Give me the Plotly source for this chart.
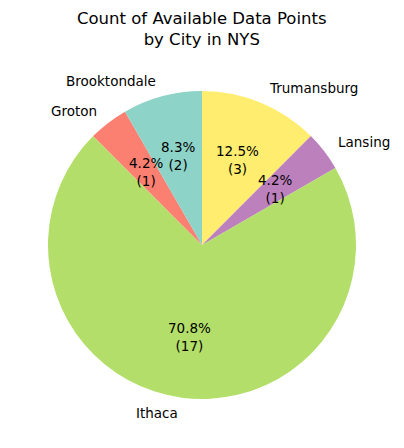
import math
import plotly.graph_objects as go

# Data (listed clockwise from 12 o'clock, as the reference shows them)
cities = ["Trumansburg", "Lansing", "Ithaca", "Groton", "Brooktondale"]
counts = [3, 1, 17, 1, 2]
colors = ["#ffed6f", "#bc80bd", "#b3de69", "#fb8072", "#8dd3c7"]
title_text = "Count of Available Data Points<br>by City in NYS"

OFF = 8  # page body margin
W, H = 404 - OFF, 448 - OFF
cx, cy, R = 202 - OFF, 245 - OFF, 154  # pixel center and radius in figure

fig = go.Figure(go.Pie(
    labels=cities, values=counts, sort=False, direction="clockwise",
    rotation=0, marker=dict(colors=colors, line=dict(width=0)),
    textinfo="none", hoverinfo="label+value+percent", showlegend=False,
    domain=dict(x=[(cx - R) / W, (cx + R) / W], y=[1 - (cy + R) / H, 1 - (cy - R) / H]),
))

total = sum(counts)
start = 90.0
font = dict(family="DejaVu Sans", size=13.5, color="black")
annotations = []
for name, c in zip(cities, counts):
    span = 360.0 * c / total
    mid = math.radians(start - span / 2)
    start -= span
    dx, dy = math.cos(mid), math.sin(mid)
    lx = (cx + 1.1 * R * dx) / W
    ly = 1 - (cy - 1.1 * R * dy) / H
    annotations.append(dict(
        x=lx, y=ly, xref="paper", yref="paper", text=name, showarrow=False,
        xanchor="left" if dx > 0 else "right", yanchor="middle", font=font))
    px = (cx + 0.6 * R * dx) / W
    py = 1 - (cy - 0.6 * R * dy) / H
    annotations.append(dict(
        x=px, y=py, xref="paper", yref="paper",
        text=f"{100 * c / total:.1f}%<br>({c})", showarrow=False,
        xanchor="center", yanchor="middle", font=font))

annotations.append(dict(
    x=(202 - OFF) / W, y=1 - (29 - OFF) / H, xref="paper", yref="paper",
    text=title_text, showarrow=False, xanchor="center", yanchor="middle",
    font=dict(family="DejaVu Sans", size=16.5, color="black")))

fig.update_layout(
    width=W, height=H, margin=dict(l=0, r=0, t=0, b=0),
    paper_bgcolor="white", plot_bgcolor="white",
    annotations=annotations,
)

fig.write_html("out.html")
